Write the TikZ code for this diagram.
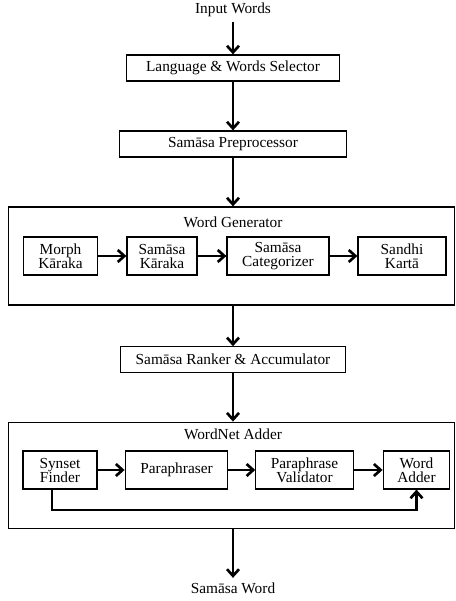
\documentclass[tikz,border=0pt]{standalone}
\usepackage{fontspec}
\setmainfont{Liberation Serif}
\usetikzlibrary{arrows.meta,positioning}

\tikzset{
  blk/.style={draw,line width=0.9pt,minimum height=19.5pt,inner sep=1pt},
  sub/.style={draw,line width=0.9pt,minimum height=28.5pt,align=center,inner sep=1pt},
  grp/.style={draw,line width=0.9pt,inner sep=0pt,minimum width=335pt},
  arr/.style={line width=2pt,-{Straight Barb[length=5pt,width=9pt]}}
}

\begin{document}
\begin{tikzpicture}[x=0.75pt,y=-0.75pt,font=\rmfamily\fontsize{11.5pt}{10.5pt}\selectfont]
    \useasboundingbox (0,0) rectangle (456,601);
    % main chain
    \node (in) at (233,10) {Input Words};
    \node[blk,minimum width=160pt] (sel) at (233,68) {Language \& Words Selector};
    \node[blk,minimum width=170pt] (pre) at (233,144) {Samāsa Preprocessor};
    \node[grp,minimum height=73.5pt] (gen) at (231.5,256) {};
    \node (gent) at (233,222) {Word Generator};
    \node[blk,minimum width=169pt,minimum height=19pt] (rank) at (233,359.5) {Samāsa Ranker \& Accumulator};
    \node[grp,minimum height=80pt] (wn) at (231.5,475.5) {};
    \node (wnt) at (233,434) {WordNet Adder};
    \node (out) at (233,588) {Samāsa Word};
    % word generator
    \node[sub,minimum width=56pt] (morph) at (60.5,256) {Morph\\Kāraka};
    \node[sub,minimum width=52.5pt] (sk) at (162,256) {Samāsa\\Kāraka};
    \node[sub,minimum width=76.5pt] (cat) at (278,256) {Samāsa\\Categorizer};
    \node[sub,minimum width=66pt] (san) at (402,256) {Sandhi\\Kartā};
    % wordnet adder
    \node[sub,minimum width=55.5pt] (syn) at (60,470) {Synset\\Finder};
    \node[sub,minimum width=77pt] (par) at (176.5,470) {Paraphraser};
    \node[sub,minimum width=73pt] (val) at (304.5,470) {Paraphrase\\Validator};
    \node[sub,minimum width=50pt] (add) at (416.5,470) {Word\\Adder};
    \coordinate (byp) at (0,510);

    \draw[arr] (in) -- (sel);
    \draw[arr] (sel) -- (pre);
    \draw[arr] (pre) -- (gen.north -| pre);
    \draw[arr] (gen.south -| rank) -- (rank);
    \draw[arr] (rank) -- (wn.north -| rank);
    \draw[arr] (wn.south -| out) -- (out);
    \draw[arr] (morph) -- (sk);
    \draw[arr] (sk) -- (cat);
    \draw[arr] (cat) -- (san);
    \draw[arr] (syn) -- (par);
    \draw[arr] (par) -- (val);
    \draw[arr] (val) -- (add);
    \draw[arr] ([xshift=-6pt]syn.south) -- ([xshift=-6pt]syn.south |- byp) -| (add.south);
\end{tikzpicture}
\end{document}
